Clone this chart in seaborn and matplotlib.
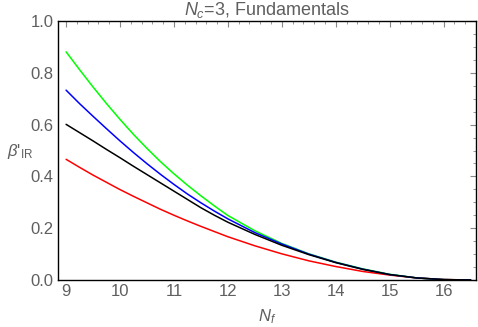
import numpy as np
import pandas as pd
import matplotlib
matplotlib.use("Agg")
import matplotlib.pyplot as plt
import seaborn as sns
from matplotlib.ticker import MultipleLocator

# ---- data ----
nf = [9.0, 9.25, 9.5, 9.75, 10.0, 10.25, 10.5, 10.75, 11.0, 11.25, 11.5, 11.75, 12.0,
      12.5, 13.0, 13.5, 14.0, 14.5, 15.0, 15.5, 16.0, 16.5]
green = [0.881, 0.812, 0.745, 0.681, 0.620, 0.562, 0.508, 0.457, 0.410, 0.366, 0.325, 0.286, 0.249,
         0.190, 0.141, 0.101, 0.069, 0.043, 0.022, 0.008, 0.0015, 0.0]
blue = [0.733, 0.681, 0.632, 0.584, 0.537, 0.492, 0.449, 0.408, 0.369, 0.332, 0.298, 0.266, 0.236,
        0.183, 0.139, 0.100, 0.068, 0.042, 0.021, 0.008, 0.0015, 0.0]
black = [0.601, 0.569, 0.537, 0.504, 0.472, 0.439, 0.407, 0.375, 0.343, 0.311, 0.279, 0.250, 0.223,
         0.176, 0.134, 0.098, 0.067, 0.041, 0.021, 0.008, 0.0015, 0.0]
red = [0.466, 0.435, 0.405, 0.377, 0.349, 0.323, 0.298, 0.273, 0.250, 0.228, 0.207, 0.187, 0.167,
       0.132, 0.101, 0.074, 0.052, 0.033, 0.019, 0.008, 0.002, 0.0]

series = {"red": red, "green": green, "blue": blue, "black": black}
colors = {"red": "#ff0000", "green": "#00ff00", "blue": "#0000ff", "black": "#000000"}

rows = []
for name, vals in series.items():
    for x, y in zip(nf, vals):
        rows.append({"Nf": x, "beta": y, "curve": name})
df = pd.DataFrame(rows)

sns.set_style("white")
plt.rcParams["font.family"] = ["Liberation Sans", "DejaVu Sans"]
plt.rcParams["mathtext.fontset"] = "custom"
plt.rcParams["mathtext.rm"] = "Liberation Sans"
plt.rcParams["mathtext.it"] = "Liberation Sans:italic"

gray = "#5f5f5f"

fig = plt.figure(figsize=(4.78, 3.27), dpi=100)
ax = fig.add_axes([58 / 478, 1 - 280 / 327, (476 - 58) / 478, (280 - 21) / 327])

sns.lineplot(data=df, x="Nf", y="beta", hue="curve", palette=colors,
             hue_order=["red", "green", "blue", "black"], linewidth=1.1,
             legend=False, ax=ax, estimator=None, sort=False)

ax.set_xlim(8.85, 16.6)
ax.set_ylim(0.0, 1.0)

ax.xaxis.set_major_locator(MultipleLocator(1))
ax.xaxis.set_minor_locator(MultipleLocator(0.2))
ax.yaxis.set_major_locator(MultipleLocator(0.2))
ax.yaxis.set_minor_locator(MultipleLocator(0.05))
ax.set_yticks([0.0, 0.2, 0.4, 0.6, 0.8, 1.0])
ax.set_yticklabels(["0.0", "0.2", "0.4", "0.6", "0.8", "1.0"])

ax.tick_params(which="both", direction="in", top=True, right=True,
               color="#888888", labelcolor=gray, labelsize=12)
ax.tick_params(which="major", length=4, width=0.8, pad=3)
ax.tick_params(which="minor", length=2, width=0.6)

for s in ax.spines.values():
    s.set_color("black")
    s.set_linewidth(1.0)

ax.set_xlabel("$N_f$", color=gray, fontsize=12, labelpad=6)
ax.set_ylabel(r"$\beta$'$_{\mathrm{IR}}$", color=gray, fontsize=12, rotation=0)
ax.yaxis.set_label_coords(-0.09, 0.46)
ax.set_title("$N_c$=3, Fundamentals", color=gray, fontsize=13, pad=4)

fig.savefig("out.png", dpi=100)
